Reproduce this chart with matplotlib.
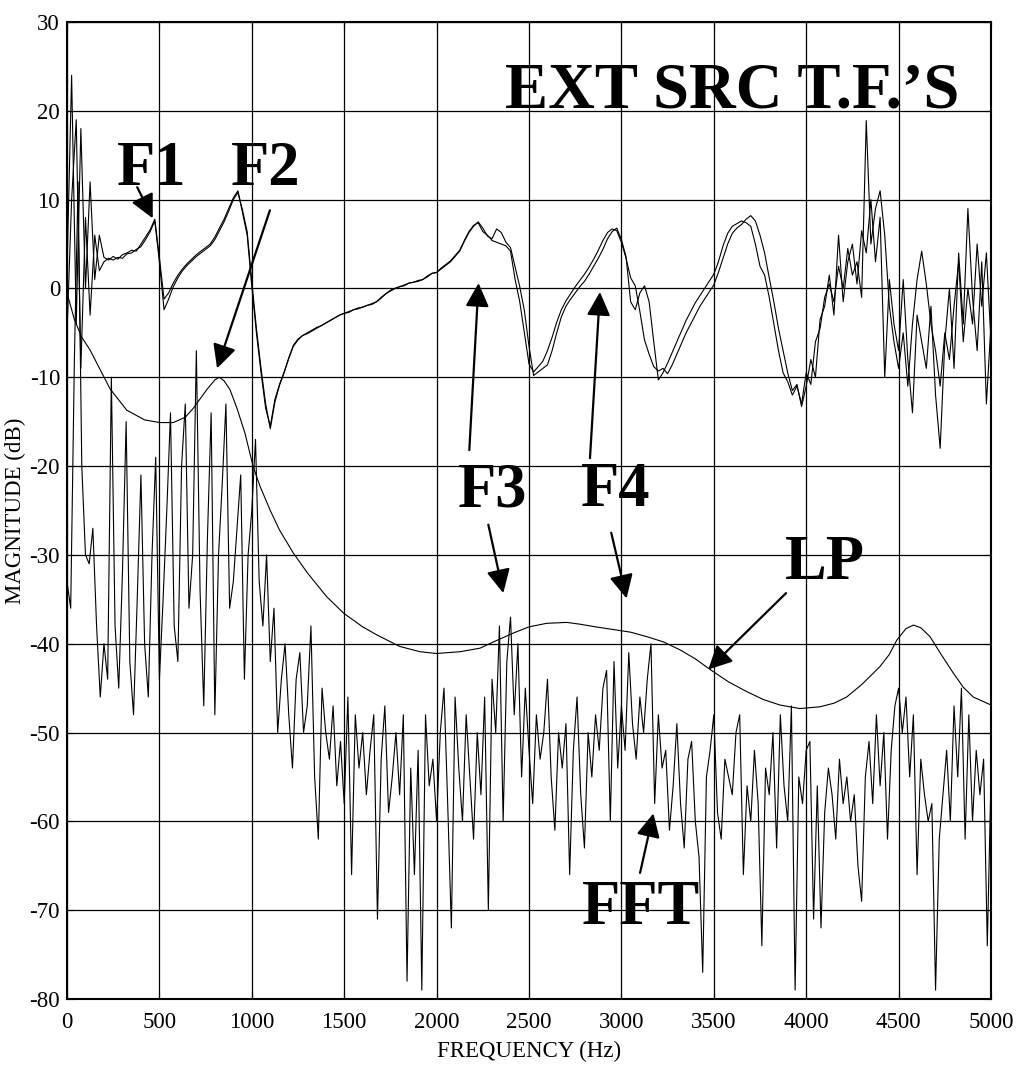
import numpy as np
import matplotlib
matplotlib.use("Agg")
import matplotlib.pyplot as plt
from matplotlib.patches import ArrowStyle

plt.rcParams['font.family'] = ['Liberation Serif', 'DejaVu Serif']
plt.rcParams['axes.unicode_minus'] = False

# frequency bins (Hz)
tf_freq = np.arange(0, 5001, 25)
fft_freq = np.arange(0, 5001, 20)

# external source transfer functions, two measurements (dB)
tf_a = [
    2, 24, -4, 18, 0, 12, 1, 6, 3.5, 3.2, 3.6, 3.3, 3.8, 4.0, 4.3, 4.2, 5.0, 5.8, 6.6, 7.8,
    3.5, -1.2, -0.5, 0.6, 1.5, 2.2, 2.8, 3.3, 3.8, 4.2, 4.6, 5.0, 5.8, 6.8, 7.8, 9.0, 10.2, 11.0, 8.5, 6.0,
    0.2, -5, -9.5, -13.5, -15.5, -12.5, -10.8, -9.4, -7.8, -6.4, -5.7, -5.3, -5.0, -4.7, -4.4, -4.2, -3.9, -3.6, -3.3, -3.0,
    -2.8, -2.6, -2.4, -2.2, -2.1, -1.9, -1.7, -1.5, -1.0, -0.6, -0.2, 0.0, 0.2, 0.4, 0.6, 0.7, 0.8, 1.0, 1.4, 1.7,
    1.8, 2.2, 2.6, 3.0, 3.6, 4.2, 5.3, 6.3, 7.0, 7.5, 6.8, 5.9, 5.6, 6.7, 6.3, 5.2, 4.6, 2.4, 0.2, -2.5,
    -6.5, -9.8, -9.4, -9.0, -8.6, -7.0, -5.0, -3.2, -2.0, -1.2, -0.5, 0.2, 0.8, 1.6, 2.5, 3.4, 4.4, 5.6, 6.4, 6.8,
    5.5, 3.6, -1.5, -2.4, -0.5, 0.3, -1.5, -6.0, -10.3, -9.5, -8.4, -7.2, -6.0, -4.8, -3.6, -2.6, -1.6, -0.8, 0.0, 0.8,
    1.6, 3.0, 4.8, 6.2, 7.0, 7.3, 7.6, 7.4, 7.0, 5.0, 2.5, 1.5, -1.0, -4.0, -7.0, -9.5, -10.5, -12.0, -11.0, -13.0,
    -9.5, -10.8, -6.0, -4.5, -1.0, 0.5, -1.5, 2.5, 0.0, 4.5, 1.5, 3.0, -1.0, 18.9, 5.0, 9.0, 11.0, 6.0, -2.0, -6.0,
    -9, -5, -11, -4, 1.0, 4.2, 0.5, -4, -7, -11, -5, -8, -2, 3, -6, 0, -4, 5, -2, 4,
    -6,
]
tf_b = [
    -5, 10, 19, -9, 8, -3, 6, 2, 3.0, 3.4, 3.2, 3.5, 3.4, 3.9, 4.0, 4.4, 4.7, 5.5, 6.4, 7.6,
    3.0, -2.4, -1.2, 0.2, 1.2, 2.0, 2.6, 3.1, 3.6, 4.0, 4.4, 4.8, 5.5, 6.5, 7.5, 8.7, 10.0, 10.8, 8.8, 6.4,
    0.8, -4.5, -9.0, -13.0, -15.8, -12.8, -10.9, -9.5, -7.9, -6.5, -5.8, -5.3, -5.1, -4.8, -4.5, -4.2, -3.9, -3.6, -3.3, -3.0,
    -2.8, -2.7, -2.4, -2.3, -2.1, -1.9, -1.8, -1.5, -1.1, -0.6, -0.3, 0.0, 0.2, 0.3, 0.6, 0.7, 0.9, 1.0, 1.3, 1.7,
    1.8, 2.3, 2.7, 3.1, 3.7, 4.3, 5.4, 6.4, 7.1, 7.4, 6.4, 6.0, 5.4, 5.2, 5.0, 4.8, 4.2, 1.0, -1.5, -5.0,
    -8.5, -9.4, -8.8, -8.2, -7.0, -5.5, -3.8, -2.4, -1.4, -0.6, 0.2, 0.9, 1.6, 2.4, 3.3, 4.3, 5.4, 6.3, 6.7, 6.5,
    5.2, 3.4, 1.2, 0.3, -2.6, -5.8, -7.4, -8.8, -9.3, -9.0, -9.6, -8.6, -7.4, -6.2, -5.0, -4.0, -3.0, -2.0, -1.2, -0.4,
    0.4, 1.8, 3.4, 5.0, 6.2, 6.8, 7.2, 7.8, 8.2, 7.6, 6.0, 4.0, 1.2, -1.5, -4.5, -7.0, -9.5, -11.5, -10.8, -13.3,
    -11.0, -8.0, -10.0, -3.5, -2.0, 1.5, -3.0, 6.0, -1.5, 3.0, 5.0, 0.5, 6.5, 4.0, 10.0, 3.0, 8.0, -10.0, 1.0, -4.0,
    -7.0, 1.0, -8.0, -14.0, -3.0, -6.0, -9.0, -2.0, -12.0, -18.0, -6.0, 0.0, -9.0, 4.0, -4.0, 9.0, -1.0, -7.0, 3.0, -13.0,
    -4,
]

# short-time FFT of the speech frame (dB)
fft_db = [
    -33, -36, -8, 12, -20, -30, -31, -27, -38, -46, -40, -44, -10, -38, -45, -32, -15, -42, -48, -35, -21, -40, -46, -30, -19,
    -44, -35, -25, -14, -38, -42, -20, -13, -36, -30, -7, -34, -47, -28, -14, -48, -30, -22, -13, -36, -33, -27, -21, -44, -30,
    -25, -17, -33, -38, -30, -42, -36, -50, -44, -40, -48, -54, -44, -41, -50, -47, -38, -55, -62, -45, -50, -53, -47, -56, -51,
    -58, -46, -66, -48, -54, -50, -57, -52, -48, -71, -53, -47, -59, -55, -50, -57, -48, -78, -54, -66, -52, -79, -48, -56, -53,
    -60, -50, -45, -58, -72, -46, -54, -60, -48, -55, -62, -50, -57, -46, -70, -44, -50, -38, -60, -42, -37, -48, -40, -55, -45,
    -52, -58, -48, -53, -50, -44, -55, -61, -50, -54, -49, -66, -52, -46, -57, -63, -50, -55, -48, -52, -45, -43, -60, -42, -54,
    -47, -52, -41, -49, -53, -46, -50, -44, -40, -58, -48, -54, -52, -61, -56, -49, -58, -63, -53, -51, -60, -64, -77, -55, -52,
    -48, -59, -62, -53, -55, -57, -50, -48, -66, -56, -60, -52, -58, -74, -54, -57, -50, -63, -48, -56, -60, -47, -79, -55, -58,
    -52, -51, -71, -56, -72, -59, -54, -57, -62, -53, -58, -55, -60, -57, -65, -69, -55, -51, -58, -48, -56, -50, -62, -52, -47,
    -45, -50, -46, -55, -48, -66, -53, -57, -60, -58, -79, -62, -57, -52, -60, -47, -55, -45, -62, -48, -60, -52, -57, -53, -74,
    -55,
]

# LP model envelope
lp_freq = [0, 40, 80, 124, 233, 323, 420, 503, 575, 640, 683, 756, 800, 824, 850, 882, 920, 963,
           1008, 1045, 1100, 1150, 1225, 1300, 1405, 1499, 1600, 1676, 1800, 1910, 2000, 2127,
           2235, 2307, 2415, 2500, 2596, 2704, 2776, 2860, 2956, 3050, 3137, 3228, 3318, 3400,
           3480, 3580, 3679, 3770, 3858, 3966, 4074, 4150, 4219, 4300, 4398, 4450, 4490, 4540,
           4580, 4620, 4670, 4730, 4796, 4850, 4904, 5000]
lp_db = [-0.5, -3.5, -5.5, -6.9, -11.3, -13.7, -14.8, -15.1, -15.1, -14.5, -13.5, -11.4, -10.3, -10.0,
         -10.4, -11.4, -13.5, -16.3, -20.1, -22.3, -25.0, -27.2, -29.8, -32.0, -34.7, -36.6, -38.1,
         -39.0, -40.3, -40.9, -41.1, -40.9, -40.5, -39.8, -38.8, -38.1, -37.7, -37.6, -37.8, -38.1,
         -38.4, -38.7, -39.2, -39.8, -40.7, -41.7, -42.9, -44.3, -45.4, -46.3, -46.9, -47.3, -47.1,
         -46.7, -46.0, -44.6, -42.6, -41.2, -39.6, -38.3, -37.9, -38.2, -39.2, -41.2, -43.3, -44.9,
         -46.0, -46.9]

# text labels: (text, x Hz, baseline dB, size)
labels = [("EXT SRC T.F.\u2019S", 3601, 20.4, 46.5), ("F1", 458, 11.6, 45), ("F2", 1074, 11.6, 45),
          ("F3", 2302, -24.5, 45), ("F4", 2970, -24.5, 45), ("LP", 4101, -32.7, 45),
          ("FFT", 3105, -71.6, 45)]

# arrows: (tail x, tail y, head x, head y)
arrows = [(380, 11.4, 464, 7.9), (1098, 8.8, 812, -9.0),
          (2177, -18.2, 2227, 0.6), (2830, -19.1, 2884, -0.4),
          (2280, -26.6, 2361, -34.3), (2945, -27.5, 3028, -34.9),
          (3891, -34.3, 3470, -42.9), (3101, -65.8, 3173, -59.1)]

fig = plt.figure(figsize=(10.28, 10.66), dpi=100)
ax = fig.add_axes([67 / 1028, 67 / 1066, 924 / 1028, 977 / 1066])

ax.plot(fft_freq, fft_db, color='k', lw=0.8)
ax.plot(tf_freq, tf_a, color='k', lw=0.8)
ax.plot(tf_freq, tf_b, color='k', lw=0.8)
ax.plot(lp_freq, lp_db, color='k', lw=0.8)

ax.set_xlim(0, 5000)
ax.set_ylim(-80, 30)
ax.set_xticks(np.arange(0, 5001, 500))
ax.set_yticks(np.arange(-80, 31, 10))
ax.grid(True, color='k', lw=0.9)
ax.tick_params(direction='in', length=5, labelsize=16.5, top=True, right=True)
ax.tick_params(axis='x', pad=9)
ax.tick_params(axis='y', pad=5)
for s in ax.spines.values():
    s.set_linewidth(1.5)

ax.set_xlabel("FREQUENCY (Hz)", fontsize=16.5)
ax.set_ylabel("MAGNITUDE (dB)", fontsize=16.5)
ax.xaxis.set_label_coords(0.5, -0.043)
ax.yaxis.set_label_coords(-0.044, 0.5)

for txt, x, y, size in labels:
    ax.text(x, y, txt, fontsize=size, fontweight='bold', ha='center', va='baseline')

head = ArrowStyle('-|>', head_length=0.6, head_width=0.3)
for x0, y0, x1, y1 in arrows:
    ax.annotate("", xy=(x1, y1), xytext=(x0, y0),
                arrowprops=dict(arrowstyle=head, mutation_scale=24, lw=1.6,
                                color='k', shrinkA=0, shrinkB=0))

fig.savefig("out.png", dpi=100)
